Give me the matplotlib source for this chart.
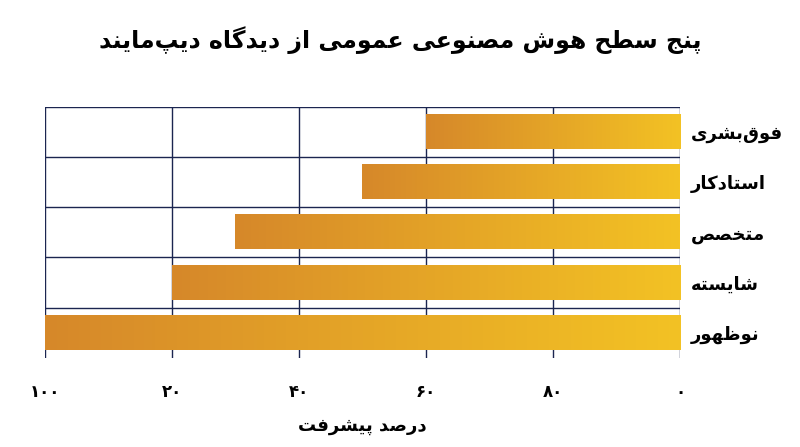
import numpy as np
import matplotlib
matplotlib.use("Agg")
import matplotlib.pyplot as plt
from matplotlib.colors import LinearSegmentedColormap

categories = ["فوق‌بشری", "استادکار", "متخصص", "شایسته", "نوظهور"]
values = [40, 50, 70, 80, 100]
tick_pos = [100, 80, 60, 40, 20, 0]
tick_labels = ["۱۰۰", "۲۰", "۴۰", "۶۰", "۸۰", "۰"]
title = "پنج سطح هوش مصنوعی عمومی از دیدگاه دیپ‌مایند"
xlabel = "درصد پیشرفت"

F = {
 'ا': (0xFE8D, 0xFE8E, None, None), 'ب': (0xFE8F, 0xFE90, 0xFE91, 0xFE92),
 'پ': (0xFB56, 0xFB57, 0xFB58, 0xFB59), 'ت': (0xFE95, 0xFE96, 0xFE97, 0xFE98),
 'ج': (0xFE9D, 0xFE9E, 0xFE9F, 0xFEA0), 'ح': (0xFEA1, 0xFEA2, 0xFEA3, 0xFEA4),
 'خ': (0xFEA5, 0xFEA6, 0xFEA7, 0xFEA8), 'د': (0xFEA9, 0xFEAA, None, None),
 'ر': (0xFEAD, 0xFEAE, None, None), 'ز': (0xFEAF, 0xFEB0, None, None),
 'س': (0xFEB1, 0xFEB2, 0xFEB3, 0xFEB4), 'ش': (0xFEB5, 0xFEB6, 0xFEB7, 0xFEB8),
 'ص': (0xFEB9, 0xFEBA, 0xFEBB, 0xFEBC), 'ط': (0xFEC1, 0xFEC2, 0xFEC3, 0xFEC4),
 'ظ': (0xFEC5, 0xFEC6, 0xFEC7, 0xFEC8), 'ع': (0xFEC9, 0xFECA, 0xFECB, 0xFECC),
 'ف': (0xFED1, 0xFED2, 0xFED3, 0xFED4), 'ق': (0xFED5, 0xFED6, 0xFED7, 0xFED8),
 'ک': (0xFB8E, 0xFB8F, 0xFB90, 0xFB91), 'گ': (0xFB92, 0xFB93, 0xFB94, 0xFB95),
 'م': (0xFEE1, 0xFEE2, 0xFEE3, 0xFEE4), 'ن': (0xFEE5, 0xFEE6, 0xFEE7, 0xFEE8),
 'ه': (0xFEE9, 0xFEEA, 0xFEEB, 0xFEEC), 'و': (0xFEED, 0xFEEE, None, None),
 'ی': (0xFBFC, 0xFBFD, 0xFBFE, 0xFBFF),
}

def shape(s):
    out = []
    n = len(s)
    for i, c in enumerate(s):
        if c not in F:
            if c != '\u200c':
                out.append(c)
            continue
        p = s[i-1] if i > 0 else None
        q = s[i+1] if i < n-1 else None
        jp = p in F and F[p][2] is not None
        jn = q in F and F[c][2] is not None
        iso, fin, ini, med = F[c]
        if jp and jn: g = med
        elif jp: g = fin
        elif jn: g = ini
        else: g = iso
        out.append(chr(g))
    return "".join(reversed(out))

fam = ["DejaVu Sans"]
fig = plt.figure(figsize=(8, 4.47), dpi=100)
ax = fig.add_axes([0.056, 0.2, 0.794, 0.56])
cmap = LinearSegmentedColormap.from_list("g", ["#D6882A", "#F3C224"])
grad = np.linspace(0, 1, 256).reshape(1, -1)
h = 0.68
for i, v in enumerate(values):
    ax.imshow(grad, cmap=cmap, aspect="auto", extent=(v, 0, i + h/2, i - h/2), zorder=2)
ax.set_xlim(100, 0)
ax.set_ylim(4.5, -0.5)
navy = "#1B2550"
for t in tick_pos:
    ax.axvline(t, color=navy, lw=1.0, zorder=1)
for y in [-0.5, 0.5, 1.5, 2.5, 3.5]:
    ax.axhline(y, color=navy, lw=1.0, zorder=1)
for s in ax.spines.values():
    s.set_visible(False)
ax.set_xticks(tick_pos)
ax.set_xticklabels(tick_labels, fontweight="bold", fontsize=12, family=fam)
ax.tick_params(axis="x", length=0, pad=18)
ax.set_yticks(range(5))
ax.set_yticklabels([shape(c) for c in categories], fontweight="bold", fontsize=13, family=fam)
ax.yaxis.tick_right()
ax.tick_params(axis="y", length=0, pad=8)
ax.set_xlabel(shape(xlabel), fontweight="bold", fontsize=13, family=fam, labelpad=12)
fig.text(0.5, 0.91, shape(title), ha="center", va="center", fontweight="bold", fontsize=17, family=fam)
fig.savefig("out.png", dpi=100)
